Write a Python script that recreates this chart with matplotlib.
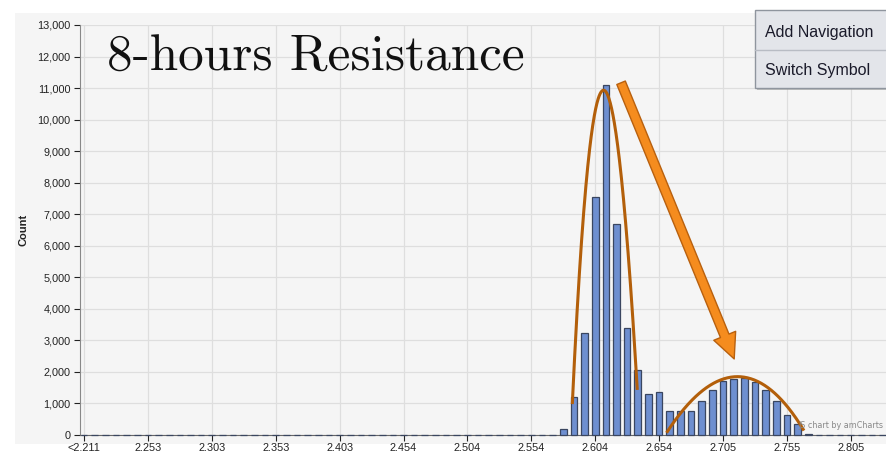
import numpy as np
import matplotlib
matplotlib.use("Agg")
import matplotlib.pyplot as plt
from matplotlib.patches import Rectangle, FancyArrowPatch

# histogram bins (category axis, label every 6th bin)
tick_labels = ["<2.211", "2.253", "2.303", "2.353", "2.403", "2.454", "2.504",
               "2.554", "2.604", "2.654", "2.705", "2.755", "2.805"]
counts = [0] * 45 + [200, 1200, 3250, 7550, 11100, 6700, 3380, 2070, 1300,
                     1350, 750, 750, 750, 1090, 1440, 1700, 1790, 1800, 1690,
                     1440, 1070, 630, 340, 30] + [0] * 7

# hand-drawn annotation (bin index, count)
curve1 = [(45.85, 980), (48.75, 10930), (51.95, 1430)]
curve2 = [(54.7, 70), (61.3, 1850), (67.6, 140)]
arrow_from = (50.33, 11250)
arrow_to = (61.15, 2330)

W, H = 886, 457
fig = plt.figure(figsize=(W / 100, H / 100), dpi=100)
fig.patch.set_facecolor("white")
fig.patches.append(Rectangle((15 / W, 1 - 444 / H), 1, 431 / H,
                             transform=fig.transFigure, fc="#f5f5f5",
                             ec="none", zorder=0))

sp = 10.65
ax = fig.add_axes([80 / W, 22 / H, (W - 80) / W, 410 / H])
ax.set_zorder(1)
ax.set_facecolor("none")
x = np.arange(len(counts))
ax.bar(x, counts, width=0.62, color="#6e8fd0", edgecolor="#3a4660",
       linewidth=0.9, zorder=3, clip_on=False)

ax.set_xlim((80 - 84) / sp, (W - 84) / sp)
ax.set_ylim(0, 13000)
ax.set_yticks(np.arange(0, 13001, 1000))
ax.set_yticklabels([f"{v:,}" for v in range(0, 13001, 1000)])
ax.set_xticks(np.arange(len(tick_labels)) * 6)
ax.set_xticklabels(tick_labels)
ax.grid(True, color="#dedede", linewidth=0.9, zorder=0)
ax.set_axisbelow(True)
ax.tick_params(axis="both", labelsize=7.8, colors="#222222", length=4,
               width=0.8)
for lab in ax.get_xticklabels() + ax.get_yticklabels():
    lab.set_family("Liberation Sans")
ax.tick_params(axis="y", pad=3)
ax.tick_params(axis="x", pad=2)
for s in ["top", "right"]:
    ax.spines[s].set_visible(False)
ax.spines["left"].set_color("#888888")
ax.spines["bottom"].set_color("#666666")
ax.set_ylabel("Count", fontsize=8, fontweight="bold", color="#222222",
              family="Liberation Sans", labelpad=6)


def bezier(pts):
    p0, p1, p2 = [np.array(p, float) for p in pts]
    # control point so that curve passes the middle point at t = 0.5
    c = 2 * p1 - 0.5 * (p0 + p2)
    t = np.linspace(0, 1, 200)[:, None]
    return (1 - t) ** 2 * p0 + 2 * (1 - t) * t * c + t ** 2 * p2


for pts in (curve1, curve2):
    b = bezier(pts)
    ax.plot(b[:, 0], b[:, 1], color="#b35f0a", lw=2.2, zorder=6,
            clip_on=False, solid_capstyle="butt")

arr = FancyArrowPatch(arrow_from, arrow_to,
                      arrowstyle="simple,head_width=0.85,head_length=0.9,tail_width=0.33",
                      mutation_scale=20, fc="#f58c1e", ec="#b8600e", lw=1.0,
                      zorder=7, clip_on=False)
ax.add_patch(arr)

fig.text(107 / W, 1 - 58 / H, "8-hours Resistance", family="cmr10",
         fontsize=37, va="center", ha="left", color="#111111", zorder=5)

fig.text(798 / W, 1 - 426 / H, "JS chart by amCharts", fontsize=5.8,
         color="#888888", va="center", ha="left", zorder=5)

# export menu
fig.patches.append(Rectangle((757 / W, 1 - 90 / H), 140 / W, 78 / H,
                             transform=fig.transFigure, fc="#9a9a9a",
                             ec="none", alpha=0.6, zorder=8))
fig.patches.append(Rectangle((755 / W, 1 - 88 / H), 140 / W, 78 / H,
                             transform=fig.transFigure, fc="#e3e5ea",
                             ec="#8f959e", lw=1, zorder=9))
fig.lines.append(plt.Line2D([755 / W, 1], [1 - 50 / H, 1 - 50 / H],
                            transform=fig.transFigure, color="#b8bcc4",
                            lw=1, zorder=10))
fig.text(765 / W, 1 - 32 / H, "Add Navigation", family="Liberation Sans",
         fontsize=11.5, color="#1a1a2a", va="center", zorder=11)
fig.text(765 / W, 1 - 71 / H, "Switch Symbol", family="Liberation Sans",
         fontsize=11.5, color="#1a1a2a", va="center", zorder=11)

fig.savefig("out.png", dpi=100)
